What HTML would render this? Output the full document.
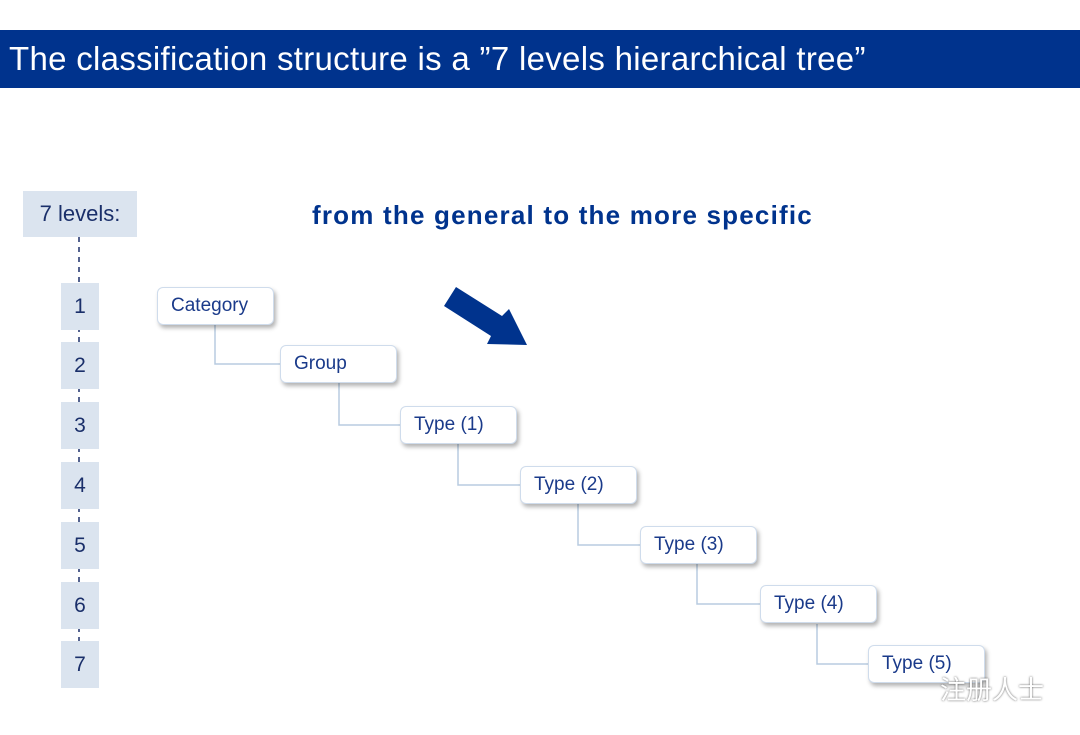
<!DOCTYPE html>
<html><head><meta charset="utf-8"><style>
body{margin:0;width:1080px;height:735px;background:#fff;position:relative;overflow:hidden;font-family:"Liberation Sans",sans-serif;color:#1a2f7a}
.t{position:absolute;left:0;top:30px;width:1080px;height:58px;background:#00338d;color:#fff;font-size:33px;line-height:58px;padding-left:9px;box-sizing:border-box;letter-spacing:0.3px}
.lv{position:absolute;background:#dbe4ef;color:#1a2f6a;text-align:center;font-size:21px}
.n{position:absolute;left:61px;width:38px;height:47px;line-height:47px}
.b{position:absolute;width:117px;height:38px;background:#fff;border:1px solid #cfdcec;border-radius:6px;box-shadow:2px 3px 4px rgba(0,0,0,0.3);font-size:19px;line-height:36px;padding-left:13px;box-sizing:border-box;color:#1a3a8a}
</style></head><body>
<div class="t">The classification structure is a ”7 levels hierarchical tree”</div>
<svg style="position:absolute;left:0;top:0" width="1080" height="735">
<line x1="79" y1="237" x2="79" y2="660" stroke="#1a2f6a" stroke-width="1.5" stroke-dasharray="5,5"/>
<g fill="none" stroke="#b8cbe0" stroke-width="1.5">
<polyline points="215,325 215,364 280,364"/>
<polyline points="339,383 339,425 400,425"/>
<polyline points="458,444 458,485 520,485"/>
<polyline points="578,504 578,545 640,545"/>
<polyline points="697,564 697,604 760,604"/>
<polyline points="817,624 817,664 868,664"/>
</g>
<polygon points="456,287 502,316 509,309 527,345 487,344 491,336 444,306" fill="#00338d"/>
</svg>
<div class="lv" style="left:23px;top:191px;width:114px;height:46px;line-height:46px;font-size:22px">7 levels:</div>
<div class="lv n" style="top:283px">1</div>
<div class="lv n" style="top:342px">2</div>
<div class="lv n" style="top:402px">3</div>
<div class="lv n" style="top:462px">4</div>
<div class="lv n" style="top:522px">5</div>
<div class="lv n" style="top:582px">6</div>
<div class="lv n" style="top:641px">7</div>
<div style="position:absolute;left:312px;top:200px;font-size:26px;font-weight:bold;color:#00338d;letter-spacing:1.2px">from the general to the more specific</div>
<div class="b" style="left:157px;top:287px">Category</div>
<div class="b" style="left:280px;top:345px">Group</div>
<div class="b" style="left:400px;top:406px">Type (1)</div>
<div class="b" style="left:520px;top:466px">Type (2)</div>
<div class="b" style="left:640px;top:526px">Type (3)</div>
<div class="b" style="left:760px;top:585px">Type (4)</div>
<div class="b" style="left:868px;top:645px">Type (5)</div>
<div style="position:absolute;left:940px;top:670px;font-size:26px;color:#fff;text-shadow:0 0 2px #555;font-family:'Noto Sans CJK SC',sans-serif">注册人士</div>
</body></html>
